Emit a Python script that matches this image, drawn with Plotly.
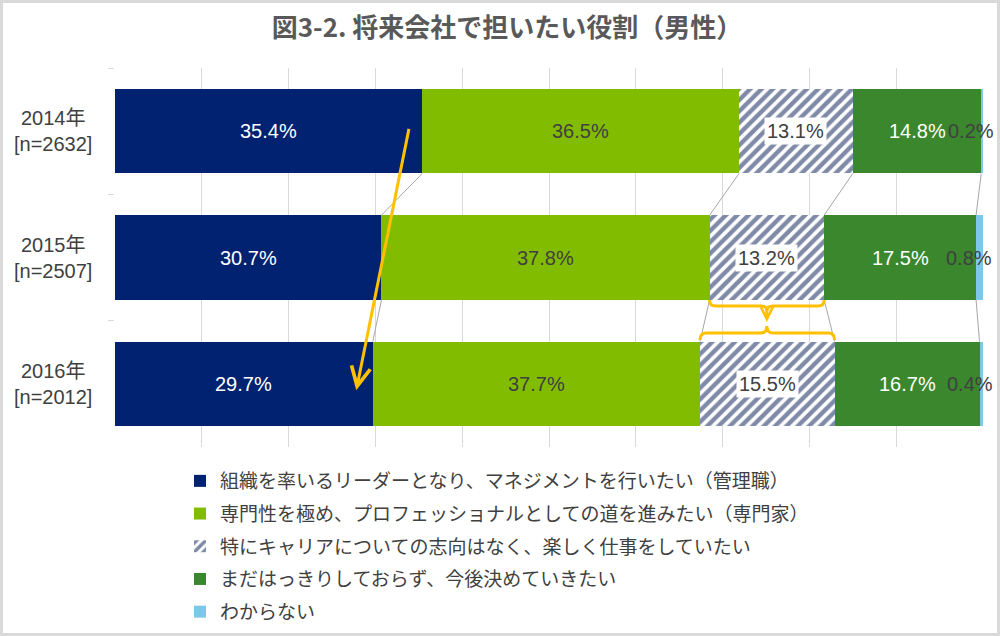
import plotly.graph_objects as go

# ---- data ----
years = ["2014", "2015", "2016"]
year_labels = ["2014年<br>[n=2632]", "2015年<br>[n=2507]", "2016年<br>[n=2012]"]
series_names = [
    "組織を率いるリーダーとなり、マネジメントを行いたい（管理職）",
    "専門性を極め、プロフェッショナルとしての道を進みたい（専門家）",
    "特にキャリアについての志向はなく、楽しく仕事をしていたい",
    "まだはっきりしておらず、今後決めていきたい",
    "わからない",
]
manager = [35.4, 30.7, 29.7]
specialist = [36.5, 37.8, 37.7]
no_pref = [13.1, 13.2, 15.5]
undecided = [14.8, 17.5, 16.7]
unknown = [0.2, 0.8, 0.4]
title_text = "図3-2. 将来会社で担いたい役割（男性）"

series_values = [manager, specialist, no_pref, undecided, unknown]

# ---- styles ----
NAVY = "#002270"
LGREEN = "#82BC00"
DGREEN = "#3A872E"
SKY = "#7CC8E8"
TXT = "#404040"
GRID = "#d9d9d9"
ORANGE = "#FFC000"
FONT = "Liberation Sans, Arial, Noto Sans CJK JP, sans-serif"
JFONT = "Noto Sans CJK JP, sans-serif"

colors = [NAVY, LGREEN, "white", DGREEN, SKY]
label_colors = ["white", TXT, TXT, "white", TXT]

W, H = 1000, 636
L, R, T, B = 115, 17, 68, 189
PW, PH = W - L - R, H - T - B


def py(px):  # pixel y -> paper y
    return (H - B - px) / PH


def pxx(px):  # pixel x -> paper x
    return (px - L) / PW


fig = go.Figure()
for i, (name, vals) in enumerate(zip(series_names, series_values)):
    marker = dict(color=colors[i], line=dict(width=0))
    if i == 2:
        marker = dict(color="white", line=dict(width=0),
                      pattern=dict(shape="/", fgcolor="#00154f", bgcolor="white",
                                   size=8, solidity=0.55, fillmode="overlay"))
    fig.add_trace(go.Bar(
        y=years, x=vals, name=name, orientation="h", marker=marker,
        legendgroup=f"g{i}", hoverinfo="skip",
    ))

annotations = []
shapes = []

# data labels
starts = [[0.0] * len(years)]
for vals in series_values[:-1]:
    starts.append([s + v for s, v in zip(starts[-1], vals)])
for i, vals in enumerate(series_values):
    for j, v in enumerate(vals):
        ann = dict(x=starts[i][j] + v / 2, y=j, xref="x", yref="y",
                   text=f"{v:.1f}%", showarrow=False,
                   xanchor="center", yanchor="middle",
                   font=dict(family=FONT, size=20, color=label_colors[i]))
        if i == 2:
            ann.update(bgcolor="white", borderpad=2)
        if i == 4:
            ann.update(xshift=-11)
        annotations.append(ann)

# category labels (centered multi-line)
for j, lab in enumerate(year_labels):
    annotations.append(dict(x=pxx(53), y=j, xref="paper", yref="y", text=lab,
                            showarrow=False, align="center",
                            xanchor="center", yanchor="middle",
                            font=dict(family=FONT, size=20, color=TXT)))

# series connector lines
half = (1 - 0.33) / 2
for j in range(len(years) - 1):
    for i in range(len(series_values) - 1):
        x0 = starts[i + 1][j]
        x1 = starts[i + 1][j + 1]
        shapes.append(dict(type="line", xref="x", yref="y",
                           x0=x0, y0=j + half, x1=x1, y1=j + 1 - half,
                           line=dict(color="#a6a6a6", width=1)))

# orange arrow (manager share decreasing)
annotations.append(dict(x=manager[2] - 1.9, y=2.05, xref="x", yref="y",
                        ax=manager[0] - 1.5, ay=-0.03, axref="x", ayref="y",
                        showarrow=True, arrowhead=5, arrowsize=1.25,
                        arrowwidth=3, arrowcolor=ORANGE, text=""))

# orange brackets between 2015 and 2016 "no preference"
b1l, b1r = starts[2][1], starts[3][1]
b2l, b2r = starts[2][2], starts[3][2]
c = (b1l + b1r) / 2
d = 0.7
p1 = (f"M{b1l},{py(300)} Q{b1l},{py(306)} {b1l + d},{py(306)} "
      f"L{c - d},{py(306)} Q{c},{py(306)} {c},{py(311)} "
      f"Q{c},{py(306)} {c + d},{py(306)} "
      f"L{b1r - d},{py(306)} Q{b1r},{py(306)} {b1r},{py(300)}")
p2 = (f"M{b2l},{py(340)} Q{b2l},{py(333)} {b2l + d},{py(333)} "
      f"L{c - d},{py(333)} Q{c},{py(333)} {c},{py(326)} "
      f"Q{c},{py(333)} {c + d},{py(333)} "
      f"L{b2r - d},{py(333)} Q{b2r},{py(333)} {b2r},{py(340)}")
for p in (p1, p2):
    shapes.append(dict(type="path", xref="x", yref="paper", path=p,
                       line=dict(color=ORANGE, width=3)))
annotations.append(dict(x=c, y=py(322), xref="x", yref="paper",
                        ax=0, ay=-15, axref="pixel", ayref="pixel",
                        showarrow=True, arrowhead=5, arrowsize=0.9,
                        arrowwidth=3, arrowcolor=ORANGE, text=""))

# outer border
shapes.append(dict(type="rect", xref="paper", yref="paper",
                   x0=pxx(1.5), x1=pxx(W - 1.5), y0=py(H - 1.5), y1=py(1.5),
                   line=dict(color=GRID, width=3), layer="below"))

fig.update_layout(
    width=W, height=H, autosize=False,
    margin=dict(l=L, r=R, t=T, b=B, pad=0, autoexpand=False),
    paper_bgcolor="white", plot_bgcolor="white",
    barmode="stack", bargap=0.33,
    title=dict(text=f"<b>{title_text}</b>", x=0.507, xref="container",
               y=1 - 28 / H, yanchor="middle",
               font=dict(family=JFONT, size=26, color="#595959")),
    xaxis=dict(range=[0, 100], dtick=10, showgrid=True, gridcolor=GRID,
               gridwidth=1, zeroline=False, showticklabels=False,
               showline=False, fixedrange=True),
    yaxis=dict(autorange="reversed", type="category", showgrid=False,
               showticklabels=False, ticks="outside", tickson="boundaries",
               ticklen=6, tickcolor=GRID, showline=False, zeroline=False),
    showlegend=True,
    legend=dict(orientation="v", x=pxx(180), xanchor="left",
                y=py(462), yanchor="top", traceorder="grouped",
                tracegroupgap=5, itemclick=False,
                font=dict(family=JFONT, size=19, color=TXT),
                bgcolor="rgba(0,0,0,0)"),
    annotations=annotations, shapes=shapes,
)

fig.write_html("out.html", config={"displayModeBar": False},
               post_script="document.body.style.margin='0';"
                           "document.body.style.overflow='hidden';")
